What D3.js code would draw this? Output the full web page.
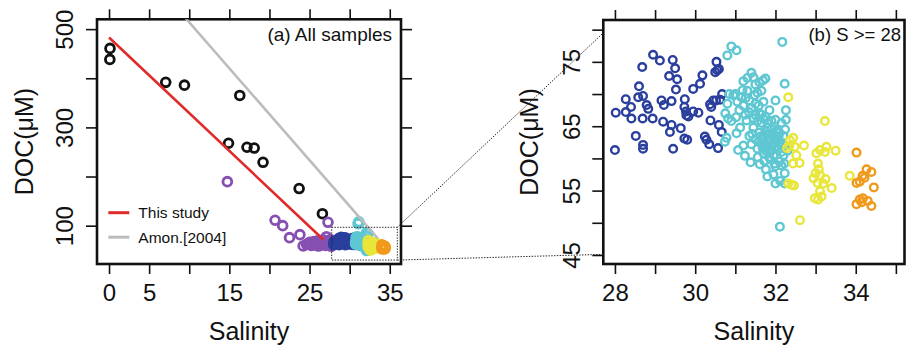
<!DOCTYPE html>
<html>
<head>
<meta charset="utf-8">
<script src="https://cdn.jsdelivr.net/npm/d3@7"></script>
<style>
  body { margin: 0; background: #fff; }
  svg { display: block; }
  text { font-family: "Liberation Sans", Arial, Helvetica, sans-serif; fill: #111; }
</style>
</head>
<body>
<svg id="chart" width="906" height="346"></svg>
<script>
// ---- samples: [salinity, DOC (µM)] ----
const blackSamples = [[0.12,460.8],[0.1,438.4],[7.07,391.7],[9.4,386],[16.3,365],[14.9,267.7],
  [17.2,259.6],[18.1,258],[19.2,229],[23.7,175.6],[26.6,124.4]];

const purpleSamples = [[14.75,189.6],[20.7,111],[21.65,100],[22.5,75.6],[23.8,81.7],[27.3,106.9],
  [24.2,58.7],[24.6,62],[24.85,62.8],[25.2,60],[25.5,67.5],[25.6,61],[25.9,63.5],[26.1,58.5],
  [26.3,64.2],[26.5,61],[26.7,71],[26.8,65],[27.0,60],[27.1,77.6],[27.2,68],[27.4,63],[27.6,72],
  [27.7,58],[27.8,66],[25.0,66],[26.0,69]];

const blueSamples = [[28.0,61.3],[28.02,67.1],[28.27,69.2],[28.27,67.2],[28.4,68.0],[28.41,66.2],
  [28.52,63.5],[28.6,71.2],[28.58,69.5],[28.68,74.2],[28.7,69.7],[28.69,66.2],[28.7,62.1],[28.7,61.5],
  [28.79,68.3],[28.83,67.7],[28.94,66.2],[28.95,76.1],[29.12,75.2],[29.16,69.0],[29.22,68.3],
  [29.2,65.7],[29.35,72.8],[29.44,75.3],[29.41,68.9],[29.41,65.2],[29.37,64.1],[29.5,74.0],
  [29.55,72.3],[29.52,70.7],[29.45,61.5],[29.64,64.7],[29.74,69.2],[29.73,68.0],[29.77,67.3],
  [29.78,66.7],[29.73,63.1],[29.8,62.9],[29.83,66.5],[29.95,67.3],[29.95,70.8],[30.08,67.1],
  [30.12,71.6],[30.18,72.9],[30.24,63.4],[30.28,62.9],[30.37,68.4],[30.4,68.0],[30.38,65.9],
  [30.35,62.2],[30.45,69.0],[30.5,73.4],[30.53,75.0],[30.59,73.9],[30.55,73.7],[30.52,69.0],
  [30.59,65.2],[30.57,61.6],[30.66,64.1],[30.67,70.0],[30.62,69.1]];

const cyanSamples = [[30.8,76.0],[30.9,77.4],[31.03,76.8],[32.17,78.1],
  [31.4,73.3],[31.3,72.5],[31.2,72.0],[31.5,71.5],[31.45,72.6],[31.6,71.8],[31.69,72.1],[31.75,72.4],
  [31.65,70.5],[32.23,71.6],[32.0,69.0],[32.26,67.5],[32.26,66.0],[32.24,64.5],[32.2,63.5],
  [30.85,70.0],[30.95,69.8],[30.8,68.5],[30.75,67.0],[30.82,66.2],[30.9,65.8],[30.74,62.6],
  [30.78,63.2],[31.0,70.0],[31.05,68.8],[31.1,67.5],[31.15,69.5],[31.2,68.2],[31.25,66.8],
  [31.3,70.5],[31.35,69.0],[31.4,67.8],[31.45,66.2],[31.5,68.5],[31.55,70.2],[31.6,67.0],
  [31.65,65.5],[31.7,68.8],[31.75,66.5],[31.8,64.8],[31.85,67.5],[31.9,65.8],[31.95,63.8],
  [32.0,66.0],[32.05,64.5],[32.1,62.5],[32.15,61.0],[32.2,60.5],
  [31.03,63.9],[31.07,61.3],[31.24,60.4],[31.2,62.0],[31.28,65.9],[31.35,63.5],[31.4,62.2],
  [31.38,59.4],[31.45,64.8],[31.5,63.0],[31.55,61.5],[31.61,59.1],[31.65,62.5],[31.7,60.8],
  [31.76,58.3],[31.8,57.2],[31.78,61.8],[31.85,63.2],[31.88,59.8],[31.9,62.0],[31.95,60.5],
  [32.0,56.1],[32.0,58.8],[32.05,61.5],[32.1,59.5],[32.15,58.9],[32.23,57.7],[32.23,56.1],
  [32.11,49.4],[32.12,56.5],[31.95,57.5],[32.25,62.0],[32.3,61.2],
  [31.7,63.5],[31.75,64.2],[31.8,62.8],[31.85,61.0],[31.9,64.5],[31.95,62.2],[32.0,63.0],
  [32.05,62.8],[31.6,64.0],[31.65,63.0],[31.8,65.5],[31.9,61.2],[32.1,64.0],[32.15,65.5],
  [31.7,66.2],[31.55,65.8],[31.5,66.8],
  [31.62,63.4],[31.72,62.2],[31.82,63.8],[31.88,62.6],[31.98,61.8],[32.02,64.2],[31.76,61.2],
  [31.68,61.6],[31.92,63.4],[32.08,63.4],[31.58,62.6],[31.84,60.2],[31.42,63.8],[31.34,67.2],
  [31.26,69.4],[31.18,70.6],[31.48,69.8],[31.58,68.2],[31.64,66.8],[31.02,66.4],[31.12,64.8],
  [32.18,62.2],[32.22,59.2],[31.98,59.2],[31.72,59.6],[31.56,60.2],
  [31.05,104],[31.15,108],[31.1,106],[31.12,105.5],[32.3,84],[32.1,86]];

const yellowSamples = [[32.32,69.5],[32.36,62.8],[32.44,63.2],[32.48,61.8],[32.52,60.5],[32.44,59.2],
  [32.6,59.3],[32.71,62.0],[32.4,55.9],[32.32,56.1],[32.61,50.4],[33.23,65.8],[33.02,60.8],
  [33.06,59.2],[33.11,61.3],[33.27,61.8],[33.5,61.2],[33.23,61.0],[33.0,57.7],[32.95,56.9],
  [33.11,57.4],[33.05,56.2],[33.19,56.1],[33.25,56.8],[33.4,55.4],[32.98,53.8],[33.06,53.6],
  [33.15,54.1],[33.11,54.9],[33.85,57.3],[32.35,62.0],[33.08,58.3],[32.29,61.6],[32.46,55.8]];

const orangeSamples = [[34.02,60.9],[34.27,58.3],[34.39,57.9],[34.17,57.3],[34.22,57.0],[34.02,56.2],
  [34.1,56.4],[34.45,55.5],[34.02,52.9],[34.1,53.6],[34.18,53.8],[34.3,53.4],[34.39,52.6],[34.15,53.2]];

// mixing lines: [salinity, DOC] end points
const thisStudyLine = [[0,483],[26.7,72]];
const amonLine = [[0,701],[33.5,74]];

// ticks and labels
const xTicksA = [0,5,10,15,20,25,30,35];
const xLabelsA = [0,5,15,25,35];
const yTicksA = [100,200,300,400,500];
const yLabelsA = [100,300,500];
const xTicksB = [28,29,30,31,32,33,34,35];
const xLabelsB = [28,30,32,34];
const yTicksB = [45,50,55,60,65,70,75,80];
const yLabelsB = [45,55,65,75];

const legendItems = ["This study","Amon.[2004]"];
const zoomSal = [27.76,35.94];
const zoomDoc = [30,96.7];

const groups = [
  {data: blackSamples,  color: "#111111"},
  {data: purpleSamples, color: "#8650b2"},
  {data: blueSamples,   color: "#2a3f9d"},
  {data: cyanSamples,   color: "#5ec7d2"},
  {data: yellowSamples, color: "#e8e63a"},
  {data: orangeSamples, color: "#f09a1c"}
];

const svg = d3.select("#chart");

const A = {left: 97, right: 401, top: 19.3, bottom: 264};
const B = {left: 603.3, right: 904.5, top: 20, bottom: 264};

const xA = d3.scaleLinear().domain([-1.5, 36.4]).range([A.left, A.right]);
const yA = d3.scaleLinear().domain([22, 520]).range([A.bottom, A.top]);
const xB = d3.scaleLinear().domain([27.71, 35.215]).range([B.left, B.right]);
const yB = d3.scaleLinear().domain([43.6, 81.5]).range([B.bottom, B.top]);

const defs = svg.append("defs");
defs.append("clipPath").attr("id","clipA").append("rect")
  .attr("x",A.left).attr("y",A.top).attr("width",A.right-A.left).attr("height",A.bottom-A.top);
defs.append("clipPath").attr("id","clipB").append("rect")
  .attr("x",B.left).attr("y",B.top).attr("width",B.right-B.left).attr("height",B.bottom-B.top);

function drawAxes(P, x, y, xt, xl, yt, yl, yLabOff, right) {
  const fmtX = d => xl.includes(d) ? d : "";
  const fmtY = d => yl.includes(d) ? d : "";
  const gb = svg.append("g").attr("transform", `translate(0,${P.bottom})`)
    .call(d3.axisBottom(x).tickValues(xt).tickSize(10).tickFormat(fmtX));
  gb.selectAll("text").attr("y", 37).attr("dy", 0).style("font-size","24px");
  svg.append("g").attr("transform", `translate(0,${P.top})`)
    .call(d3.axisTop(x).tickValues(xt).tickSize(10).tickFormat(""));
  const gl = svg.append("g").attr("transform", `translate(${P.left},0)`)
    .call(d3.axisLeft(y).tickValues(yt).tickSize(11).tickFormat(fmtY));
  gl.selectAll("text").attr("x", 0).attr("dy", 0)
    .attr("text-anchor","middle")
    .attr("transform", `translate(${-yLabOff},0) rotate(-90)`)
    .style("font-size","24px");
  if (right) {
    svg.append("g").attr("transform", `translate(${P.right},0)`)
      .call(d3.axisRight(y).tickValues(yt).tickSize(11).tickFormat(""));
  }
  svg.selectAll(".domain").remove();
  svg.selectAll(".tick line").attr("stroke","#111").attr("stroke-width",1.6);
  svg.append("rect").attr("x",P.left).attr("y",P.top)
    .attr("width",P.right-P.left).attr("height",P.bottom-P.top)
    .attr("fill","none").attr("stroke","#111").attr("stroke-width",2.6);
  svg.append("text").attr("x",(P.left+P.right)/2).attr("y",339.5)
    .attr("text-anchor","middle").style("font-size","25px").text("Salinity");
}

drawAxes(A, xA, yA, xTicksA, xLabelsA, yTicksA, yLabelsA, 24, true);
drawAxes(B, xB, yB, xTicksB, xLabelsB, yTicksB, yLabelsB, 23, false);

// y titles
[[33, (A.top+A.bottom)/2],[538, (B.top+B.bottom)/2]].forEach(([bx, cy]) => {
  svg.append("text").attr("transform", `translate(${bx},${cy}) rotate(-90)`)
    .attr("text-anchor","middle").style("font-size","25px").text("DOC(\u03BCM)");
});

// panel (a): all samples
const gA = svg.append("g").attr("clip-path","url(#clipA)");
groups.forEach(g => {
  gA.selectAll(null).data(g.data).enter().append("circle")
    .attr("cx", d => xA(d[0])).attr("cy", d => yA(d[1])).attr("r", 4.4)
    .attr("fill","none").attr("stroke", g.color).attr("stroke-width", 2.8);
});
const lineA = d3.line().x(d => xA(d[0])).y(d => yA(d[1]));
gA.append("path").attr("d", lineA(amonLine)).attr("fill","none")
  .attr("stroke","#bcbcbc").attr("stroke-width",2.6);
gA.append("path").attr("d", lineA(thisStudyLine)).attr("fill","none")
  .attr("stroke","#e02a2a").attr("stroke-width",2.6);

// zoom box and connectors
const dot = {stroke:"#222", "stroke-width":1, "stroke-dasharray":"1.4,1.4", fill:"none"};
const box = svg.append("rect")
  .attr("x", xA(zoomSal[0])).attr("y", yA(zoomDoc[1]))
  .attr("width", xA(zoomSal[1]) - xA(zoomSal[0])).attr("height", yA(zoomDoc[0]) - yA(zoomDoc[1]));
Object.entries(dot).forEach(([k,v]) => box.attr(k,v));
const conn = [
  [[xA(zoomSal[1]), yA(zoomDoc[1])], [B.left, yB(79.5)]],
  [[xA(zoomSal[1]), yA(zoomDoc[0])], [B.left, yB(45.1)]]
];
conn.forEach(c => {
  const l = svg.append("line").attr("x1",c[0][0]).attr("y1",c[0][1]).attr("x2",c[1][0]).attr("y2",c[1][1]);
  Object.entries(dot).forEach(([k,v]) => l.attr(k,v));
});

// legend
const legColors = ["#e02a2a","#bcbcbc"];
legendItems.forEach((t,i) => {
  const yy = 212.7 + i*24.5;
  svg.append("line").attr("x1",108.3).attr("x2",129.3).attr("y1",yy).attr("y2",yy)
    .attr("stroke",legColors[i]).attr("stroke-width",3);
  svg.append("text").attr("x",138.3).attr("y",yy).attr("dy","0.36em")
    .style("font-size","15.5px").text(t);
});

// panel labels
svg.append("text").attr("x",392).attr("y",41).attr("text-anchor","end")
  .style("font-size","19px").text("(a) All samples");

// panel (b): S >= 28
const gB = svg.append("g").attr("clip-path","url(#clipB)");
groups.slice(2).forEach(g => {
  gB.selectAll(null).data(g.data).enter().append("circle")
    .attr("cx", d => xB(d[0])).attr("cy", d => yB(d[1])).attr("r", 3.8)
    .attr("fill","none").attr("stroke", g.color).attr("stroke-width", 2.4);
});
svg.append("text").attr("x",901).attr("y",41).attr("text-anchor","end")
  .style("font-size","18.5px").text("(b) S >= 28");
</script>
</body>
</html>
